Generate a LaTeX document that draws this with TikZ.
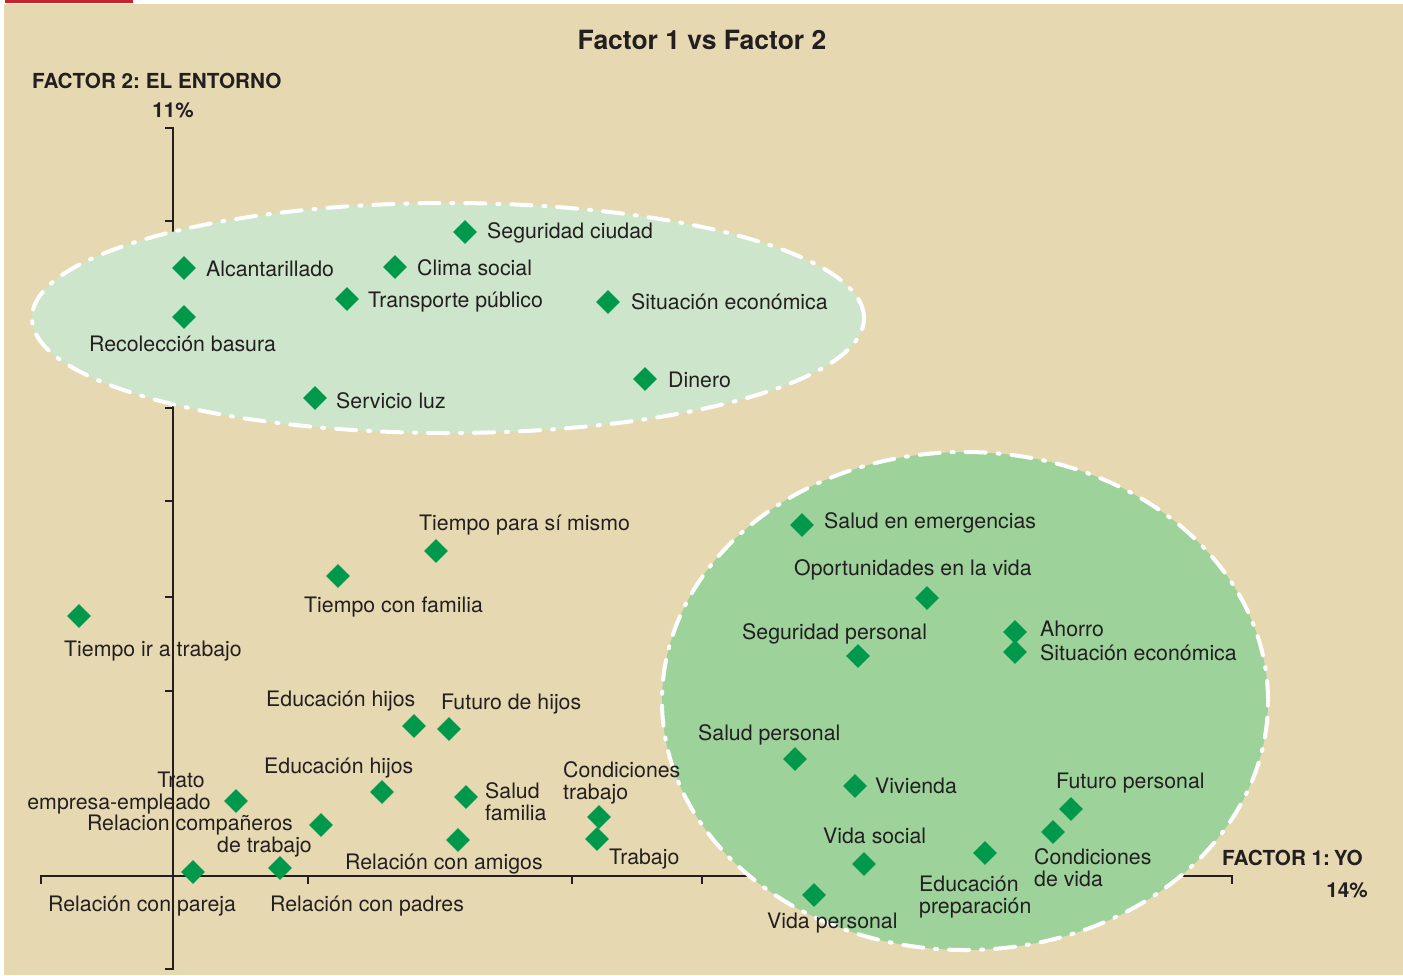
\documentclass[tikz,border=0pt]{standalone}
\usepackage{fontspec}
\setmainfont{TeX Gyre Heros}
\usetikzlibrary{shapes.geometric}
\definecolor{beige}{RGB}{230,217,178}
\definecolor{paleg}{RGB}{205,229,203}
\definecolor{midg}{RGB}{157,210,155}
\definecolor{dotg}{RGB}{0,153,76}
\definecolor{ink}{RGB}{35,31,32}
\definecolor{redbar}{RGB}{200,35,44}
\frenchspacing
\begin{document}
\begin{tikzpicture}[x=1pt,y=1pt]
\tikzstyle{every node}+=[inner sep=0pt]
\tikzstyle{axis}=[ink,line width=1.6pt]
\tikzstyle{blob}=[white,line width=4pt,line cap=round,dash pattern=on 20pt off 12pt on 2pt off 12pt]
\tikzstyle{item}=[diamond,fill=dotg,minimum size=24pt]
\tikzstyle{lbl}=[text=ink,font=\fontsize{21.3}{21.5}\selectfont]
\tikzstyle{head}=[text=ink,font=\fontsize{20.7}{22}\selectfont\bfseries]
\useasboundingbox (0,0) rectangle (1403,-975);
\fill [white] (0,0) rectangle (1403,-975);
\fill [beige] (4,-4) rectangle (1403,-975);
\fill [redbar] (5,0) rectangle (133,-3);
% axes
\draw [axis] (165,-128) -- (173,-128) -- (173,-969) -- (165,-969);
\foreach \y in {221,408,501,597,691}
  \draw [axis] (165,-\y) -- (173,-\y);
\draw [axis] (41,-884) -- (41,-876) -- (1232,-876) -- (1232,-884);
\foreach \x in {308,572,702}
  \draw [axis] (\x,-876) -- (\x,-884);
% groups
\draw [blob,fill=paleg] (448,-318) ellipse [x radius=416,y radius=115];
\draw [blob,fill=midg] (965,-701) ellipse [x radius=303,y radius=249];
% titles
\node (title) [anchor=base,text=ink,font=\fontsize{26.5}{28}\selectfont\bfseries] at (702,-49) {Factor 1 vs Factor 2};
\node (f2) [head,anchor=base west] at (32,-88) {FACTOR 2: EL ENTORNO};
\node (f2p) [head,anchor=base] at (173,-117) {11\%};
\node (f1) [head,anchor=base west] at (1222,-865) {FACTOR 1:\hspace{-2pt} YO};
\node (f1p) [head,anchor=base east] at (1368,-897) {14\%};
% el entorno
\node (p1) [item] at (465,-232) {};
\node (t1) [lbl,anchor=base west] at (487,-238) {Seguridad ciudad};
\node (p2) [item] at (184,-268) {};
\node (t2) [lbl,anchor=base west] at (206,-276) {Alcantarillado};
\node (p3) [item] at (395,-267) {};
\node (t3) [lbl,anchor=base west] at (417,-275) {Clima social};
\node (p4) [item] at (347,-299) {};
\node (t4) [lbl,anchor=base west] at (368,-307) {Transporte público};
\node (p5) [item] at (608,-302) {};
\node (t5) [lbl,anchor=base west] at (631,-309) {Situación económica};
\node (p6) [item] at (184,-317) {};
\node (t6) [lbl,anchor=base west] at (89,-351) {Recolección basura};
\node (p7) [item] at (645,-379) {};
\node (t7) [lbl,anchor=base west] at (668,-387) {Dinero};
\node (p8) [item] at (315,-398) {};
\node (t8) [lbl,anchor=base west] at (336,-408) {Servicio luz};
% centro
\node (p9) [item] at (436,-551) {};
\node (t9) [lbl,anchor=base west] at (419,-530) {Tiempo para sí mismo};
\node (p10) [item] at (338,-576) {};
\node (t10) [lbl,anchor=base west] at (304,-612) {Tiempo con familia};
\node (p11) [item] at (79,-616) {};
\node (t11) [lbl,anchor=base west] at (64,-656) {Tiempo ir a trabajo};
\node (p12) [item] at (414,-726) {};
\node (t12) [lbl,anchor=base west] at (266,-706) {Educación hijos};
\node (p13) [item] at (449,-729) {};
\node (t13) [lbl,anchor=base west] at (441,-709) {Futuro de hijos};
\node (p14) [item] at (382,-792) {};
\node (t14) [lbl,anchor=base west] at (264,-773) {Educación hijos};
\node (p15) [item] at (466,-797) {};
\node (t15) [lbl,anchor=base west,align=left] at (485,-820) {Salud\\familia};
\node (p16) [item] at (236,-801) {};
\node (t16) [lbl,anchor=base east,align=right] at (211,-809) {Trato\kern6pt\\empresa-empleado};
\node (p17) [item] at (321,-825) {};
\node (t17) [lbl,anchor=base east,align=right] at (312,-852) {Relacion compañeros\kern19pt\\de trabajo};
\node (p18) [item] at (193,-872) {};
\node (t18) [lbl,anchor=base west] at (48,-911) {Relación con pareja};
\node (p19) [item] at (280,-868) {};
\node (t19) [lbl,anchor=base west] at (270,-911) {Relación con padres};
\node (p20) [item] at (458,-840) {};
\node (t20) [lbl,anchor=base west] at (345,-869) {Relación con amigos};
\node (p21) [item] at (599,-817) {};
\node (t21) [lbl,anchor=base west,align=left] at (563,-799) {Condiciones\\trabajo};
\node (p22) [item] at (597,-839) {};
\node (t22) [lbl,anchor=base west] at (609,-864) {Trabajo};
% yo
\node (p23) [item] at (802,-525) {};
\node (t23) [lbl,anchor=base west] at (824,-528) {Salud en emergencias};
\node (p24) [item] at (927,-598) {};
\node (t24) [lbl,anchor=base west] at (794,-575) {Oportunidades en la vida};
\node (p25) [item] at (858,-656) {};
\node (t25) [lbl,anchor=base west] at (742,-639) {Seguridad personal};
\node (p26) [item] at (1015,-632) {};
\node (t26) [lbl,anchor=base west] at (1040,-636) {Ahorro};
\node (p27) [item] at (1015,-652) {};
\node (t27) [lbl,anchor=base west] at (1040,-660) {Situación económica};
\node (p28) [item] at (795,-759) {};
\node (t28) [lbl,anchor=base west] at (698,-740) {Salud personal};
\node (p29) [item] at (855,-786) {};
\node (t29) [lbl,anchor=base west] at (875,-793) {Vivienda};
\node (p30) [item] at (1071,-809) {};
\node (t30) [lbl,anchor=base west] at (1056,-788) {Futuro personal};
\node (p31) [item] at (1053,-832) {};
\node (t31) [lbl,anchor=base west,align=left] at (1034,-886) {Condiciones\\de vida};
\node (p32) [item] at (985,-853) {};
\node (t32) [lbl,anchor=base west,align=left] at (919,-913) {Educación\\preparación};
\node (p33) [item] at (864,-864) {};
\node (t33) [lbl,anchor=base west] at (823,-843) {Vida social};
\node (p34) [item] at (814,-895) {};
\node (t34) [lbl,anchor=base west] at (767,-928) {Vida personal};
\end{tikzpicture}
\end{document}
